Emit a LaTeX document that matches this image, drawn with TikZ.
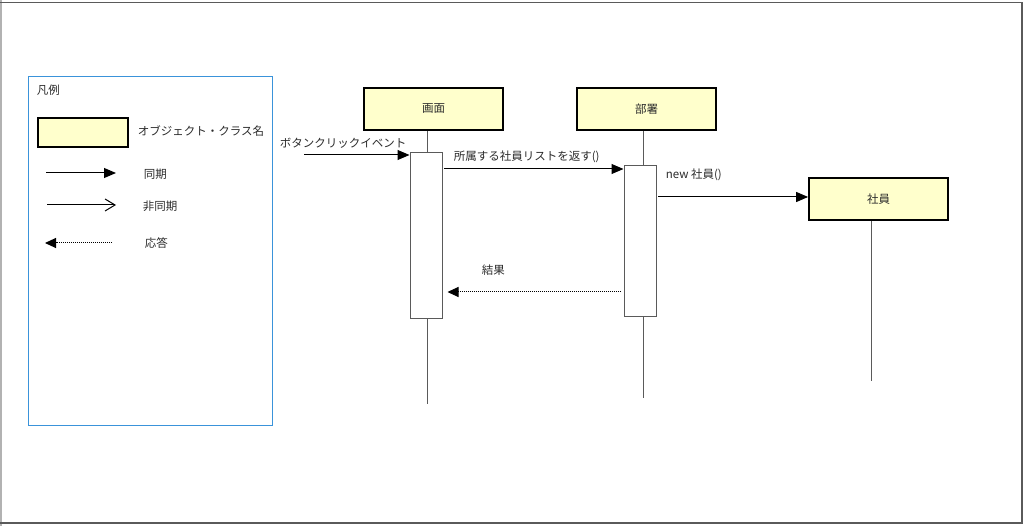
\documentclass[tikz,border=0pt]{standalone}
\usepackage{fontspec}
\setmainfont{Noto Sans CJK JP}
\usepackage{xcolor}
\usetikzlibrary{arrows.meta}
\definecolor{ObjYellow}{HTML}{FFFFCC}
\definecolor{LegendBlue}{HTML}{3A93DA}
\definecolor{InkGrey}{HTML}{2B2B2B}
\definecolor{FrameGrey}{HTML}{5A5A5A}

\begin{document}
\begin{tikzpicture}[
        x = 1pt, y = -1pt,
        line width = 1pt,
        every node/.style = {font = \fontsize{11.5}{13}\selectfont, text = InkGrey},
        object/.style = {
            draw         = black,
            line width   = 1.8pt,
            fill         = ObjYellow,
            minimum width  = 139pt,
            minimum height = 42pt,
            inner sep    = 0pt,
        },
        activation/.style = {
            draw         = FrameGrey,
            fill         = white,
            minimum width = 32pt,
            inner sep    = 0pt,
        },
        sync/.style  = {-{Triangle[length = 12pt, width = 10pt]}},
        async/.style = {-{Straight Barb[length = 10pt, width = 12pt]}},
        reply/.style = {-{Triangle[length = 11pt, width = 10pt]}, densely dotted},
    ]
    \useasboundingbox (0, 0) rectangle (1024, 526);

    \draw[black!30, line width = 1.5pt] (0.75, 0) -- (0.75, 526);
    \draw[FrameGrey, line width = 1.5pt] (0, 2.5) -- (1022, 2.5) -- (1022, 523) -- (0, 523);

    % legend
    \node[draw = LegendBlue, minimum width = 244pt, minimum height = 348pt] (Legend) at (150, 251) {};
    \node[anchor = west] (LegendTitle) at (33, 90) {凡例};
    \node[object, minimum width = 90pt, minimum height = 29pt] (LegendObj) at (83, 132.5) {};
    \node[anchor = west] (LegendObjText) at (134, 131) {オブジェクト・クラス名};

    \coordinate (SyncA) at (46, 173);
    \coordinate (SyncB) at (116, 173);
    \coordinate (AsyncA) at (47, 205);
    \coordinate (AsyncB) at (116, 205);
    \coordinate (ReplyA) at (112, 243);
    \coordinate (ReplyB) at (45, 243);

    \draw[sync]  (SyncA) -- (SyncB);
    \draw[async] (AsyncA) -- (AsyncB);
    \draw[reply] (ReplyA) -- (ReplyB);

    \node[anchor = west] (SyncText)  at (140, 174) {同期};
    \node[anchor = west] (AsyncText) at (139, 206) {非同期};
    \node[anchor = west] (ReplyText) at (141, 243) {応答};

    % lifelines
    \node[object] (Screen)   at (433.5, 109) {画面};
    \node[object] (Dept)     at (646.5, 109) {部署};
    \node[object] (Employee) at (878.5, 199) {社員};

    \coordinate (ScreenEnd)   at (427, 404);
    \coordinate (DeptEnd)     at (643, 398);
    \coordinate (EmployeeEnd) at (871, 381);

    \draw[FrameGrey] (Screen.south -| ScreenEnd) -- (ScreenEnd);
    \draw[FrameGrey] (Dept.south -| DeptEnd) -- (DeptEnd);
    \draw[FrameGrey] (Employee.south -| EmployeeEnd) -- (EmployeeEnd);

    \node[activation, minimum height = 165pt] (ScreenAct) at (426, 235.5) {};
    \node[activation, minimum height = 150pt] (DeptAct)   at (640, 241) {};

    % messages
    \coordinate (ClickMsg)  at (304, 155);
    \coordinate (ListMsg)   at (444, 169);
    \coordinate (NewMsg)    at (658, 197);
    \coordinate (ResultMsg) at (621, 292);

    \draw[sync]  (ClickMsg) -- (ClickMsg -| ScreenAct.west);
    \draw[sync]  (ListMsg) -- (ListMsg -| DeptAct.west);
    \draw[sync]  (NewMsg) -- (NewMsg -| Employee.west);
    \draw[reply, shorten > = 5pt] (ResultMsg) -- (ResultMsg -| ScreenAct.east);

    \node[anchor = west] (ClickText)  at (276, 143) {ボタンクリックイベント};
    \node[anchor = west] (ListText)   at (450, 157) {所属する社員リストを返す()};
    \node[anchor = west] (NewText)    at (662, 175) {new 社員()};
    \node[anchor = west] (ResultText) at (478, 270) {結果};
\end{tikzpicture}
\end{document}
